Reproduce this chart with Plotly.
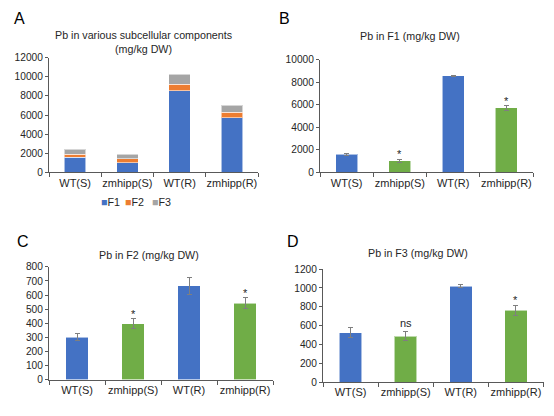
import plotly.graph_objects as go

W, H = 554, 416

categories = ["WT(S)", "zmhipp(S)", "WT(R)", "zmhipp(R)"]

# F1, F2, F3 mean values (mg/kg DW) and standard errors
f1_vals = [1590, 1030, 8550, 5720]
f1_err = [80, 120, 50, 200]
f2_vals = [300, 395, 665, 543]
f2_err = [25, 35, 62, 38]
f3_vals = [525, 488, 1020, 763]
f3_err = [50, 48, 20, 55]

# significance marks per category (None = no mark)
f1_sig = [None, "*", None, "*"]
f2_sig = [None, "*", None, "*"]
f3_sig = [None, "ns", None, "*"]

BLUE = "#4472C4"
ORANGE = "#ED7D31"
GRAY = "#A5A5A5"
GREEN = "#70AD47"
bar_colors = [BLUE, GREEN, BLUE, GREEN]

FONT = "Liberation Sans, Arial, sans-serif"
TXT = "#262626"
AX = "#595959"

fig = go.Figure()

def px_dom(a, b, total):
    return [a / total, b / total]

def py_dom(top, bottom):
    return [1 - bottom / H, 1 - top / H]

# Panel A: stacked
line_light = dict(color="rgba(255,255,255,0.55)", width=1)
for name, vals, col in [("F1", f1_vals, BLUE), ("F2", f2_vals, ORANGE), ("F3", f3_vals, GRAY)]:
    fig.add_trace(go.Bar(x=categories, y=vals, name=name, marker=dict(color=col, line=line_light),
                         xaxis="x", yaxis="y", showlegend=False, width=0.41))

err_style = dict(type="data", thickness=1, width=2.5, color="#7F7F7F")
for i, (vals, errs) in enumerate([(f1_vals, f1_err), (f2_vals, f2_err), (f3_vals, f3_err)], start=2):
    fig.add_trace(go.Bar(x=categories, y=vals, marker=dict(color=bar_colors, line=line_light),
                         error_y=dict(array=errs, **err_style),
                         xaxis=f"x{i}", yaxis=f"y{i}", showlegend=False, width=0.41))

axis_common = dict(showline=True, linecolor=AX, linewidth=1, showgrid=False, zeroline=False,
                   ticks="outside", tickcolor=AX, ticklen=3, tickformat="d",
                   tickfont=dict(family=FONT, size=10.2, color=TXT))
xaxis_common = dict(showline=True, linecolor=AX, linewidth=1, showgrid=False, zeroline=False,
                    ticks="outside", tickcolor=AX, tickson="boundaries", ticklen=4, tickangle=0,
                    tickfont=dict(family=FONT, size=11, color=TXT), type="category")

layout = dict(
    width=W, height=H, margin=dict(l=0, r=0, t=0, b=0),
    paper_bgcolor="white", plot_bgcolor="white", barmode="stack", showlegend=False,
    font=dict(family=FONT, color=TXT),
    xaxis=dict(xaxis_common, domain=px_dom(49, 258, W), anchor="y"),
    yaxis=dict(axis_common, domain=py_dom(54, 172), range=[0, 12000], dtick=2000, anchor="x"),
    xaxis2=dict(xaxis_common, domain=px_dom(320, 533, W), anchor="y2"),
    yaxis2=dict(axis_common, domain=py_dom(56, 172), range=[0, 10000], dtick=2000, anchor="x2"),
    xaxis3=dict(xaxis_common, domain=px_dom(49, 273, W), anchor="y3"),
    yaxis3=dict(axis_common, domain=py_dom(269, 384.7), range=[0, 800], dtick=100, anchor="x3"),
    xaxis4=dict(xaxis_common, domain=px_dom(323, 543.5, W), anchor="y4"),
    yaxis4=dict(axis_common, domain=py_dom(271.3, 387.3), range=[0, 1200], dtick=200, anchor="x4"),
)
fig.update_layout(**layout)

ann = []
# panel letters
for letter, cx, cy in [("A", 19, 13.5), ("B", 284, 13.5), ("C", 23, 242.7), ("D", 293, 242.7)]:
    ann.append(dict(text=letter, x=cx / W, y=1 - cy / H, xref="paper", yref="paper",
                    xanchor="center", yanchor="middle", showarrow=False,
                    font=dict(family=FONT, size=16, color="#000000")))
# titles
for t, cx, cy in [("Pb in various subcellular components<br>(mg/kg DW)", 143.7, 37.5),
                  ("Pb in F1 (mg/kg DW)", 409.7, 32.3),
                  ("Pb in F2 (mg/kg DW)", 149.3, 256.3),
                  ("Pb in F3 (mg/kg DW)", 418.3, 254.7)]:
    ann.append(dict(text=t, x=cx / W, y=1 - cy / H, xref="paper", yref="paper",
                    xanchor="center", yanchor="middle", showarrow=False,
                    font=dict(family=FONT, size=10.7, color=TXT)))
# significance marks
for i, (vals, errs, sig) in enumerate([(f1_vals, f1_err, f1_sig), (f2_vals, f2_err, f2_sig),
                                       (f3_vals, f3_err, f3_sig)], start=2):
    for c, v, e, s in zip(categories, vals, errs, sig):
        if s is None:
            continue
        ann.append(dict(text=s, x=c, y=v + e, xref=f"x{i}", yref=f"y{i}", xanchor="center",
                        yanchor="bottom", showarrow=False, yshift=(1 if s == "ns" else -3),
                        font=dict(family=FONT, size=11, color=TXT)))
# legend for panel A
for name, col, lx in [("F1", BLUE, 99), ("F2", ORANGE, 123), ("F3", GRAY, 150)]:
    ann.append(dict(text=f"<span style='color:{col}'>■</span>{name}", x=lx / W, y=1 - 202.5 / H,
                    xref="paper", yref="paper", xanchor="left", yanchor="middle", showarrow=False,
                    font=dict(family=FONT, size=10.7, color=TXT)))
fig.update_layout(annotations=ann)

fig.write_html("out.html", config={"displayModeBar": False},
               post_script="document.body.style.margin='0px';")
